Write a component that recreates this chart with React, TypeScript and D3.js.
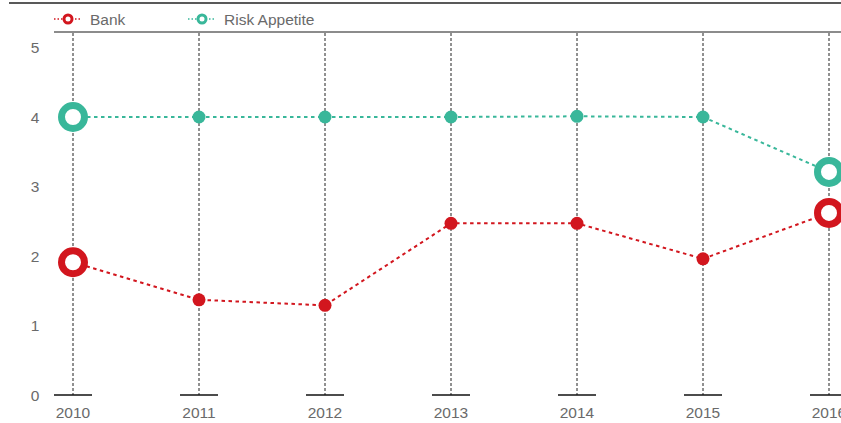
import React from "react";
import * as d3 from "d3";

const years = [2010, 2011, 2012, 2013, 2014, 2015, 2016];
const bankValues = [1.91, 1.37, 1.29, 2.47, 2.47, 1.96, 2.62];
const riskValues = [4.0, 4.0, 4.0, 4.0, 4.01, 4.0, 3.21];
const yTicks = [0, 1, 2, 3, 4, 5];

const RED = "#d2161e";
const TEAL = "#39b79a";
const FONT = "'Liberation Sans', Arial, sans-serif";
const TEXT = "#6a6a6a";
const FS = 15.5;

const W = 841;
const H = 423;

export default function App() {
  const x = d3.scalePoint<number>().domain(years).range([73, 829]);
  const y = d3.scaleLinear().domain([0, 5]).range([395, 47.5]);

  const line = d3
    .line<number>()
    .x((_, i) => x(years[i])!)
    .y((d) => y(d));

  const series = [
    { name: "Bank", values: bankValues, color: RED },
    { name: "Risk Appetite", values: riskValues, color: TEAL },
  ];

  const last = years.length - 1;

  return (
    <div style={{ position: "fixed", left: 0, top: 0 }}>
      <svg width={W} height={H} style={{ display: "block", fontFamily: FONT }}>
        <rect width={W} height={H} fill="#fff" />
        {/* top rule and legend rule */}
        <line x1={9} x2={W} y1={3} y2={3} stroke="#222" strokeWidth={1.5} />
        <line x1={54} x2={W} y1={32} y2={32} stroke="#666" strokeWidth={1.5} />

        {/* legend */}
        {series.map((s, i) => {
          const lx = i === 0 ? 54 : 188;
          return (
            <g key={s.name}>
              <line
                x1={lx}
                x2={lx + 28}
                y1={19}
                y2={19}
                stroke={s.color}
                strokeWidth={1.5}
                strokeDasharray="1.5,2"
              />
              <circle cx={lx + 14} cy={19} r={4} fill="#fff" stroke={s.color} strokeWidth={3} />
              <text x={lx + 36} y={24.5} fontSize={FS} fill={TEXT}>
                {s.name}
              </text>
            </g>
          );
        })}

        {/* y axis labels */}
        {yTicks.map((t) => (
          <text key={t} x={35} y={y(t) + 5.5} textAnchor="middle" fontSize={FS} fill={TEXT}>
            {t}
          </text>
        ))}

        {/* vertical dashed guides, baseline ticks and year labels */}
        {years.map((yr) => {
          const cx = x(yr)!;
          return (
            <g key={yr}>
              <line
                x1={cx}
                x2={cx}
                y1={33}
                y2={395}
                stroke="#222"
                strokeWidth={1}
                strokeDasharray="3,2"
              />
              <line x1={cx - 19} x2={cx + 19} y1={395} y2={395} stroke="#111" strokeWidth={1.5} />
              <text x={cx} y={418} textAnchor="middle" fontSize={FS} fill={TEXT}>
                {yr}
              </text>
            </g>
          );
        })}

        {/* series lines and markers */}
        {series.map((s) => (
          <g key={s.name}>
            <path
              d={line(s.values)!}
              fill="none"
              stroke={s.color}
              strokeWidth={2}
              strokeDasharray="3.5,3.5"
            />
            {s.values.map((v, i) =>
              i === 0 || i === last ? (
                <circle
                  key={i}
                  cx={x(years[i])!}
                  cy={y(v)}
                  r={11.5}
                  fill="#fff"
                  stroke={s.color}
                  strokeWidth={7}
                />
              ) : (
                <circle key={i} cx={x(years[i])!} cy={y(v)} r={6.5} fill={s.color} />
              )
            )}
          </g>
        ))}
      </svg>
    </div>
  );
}
